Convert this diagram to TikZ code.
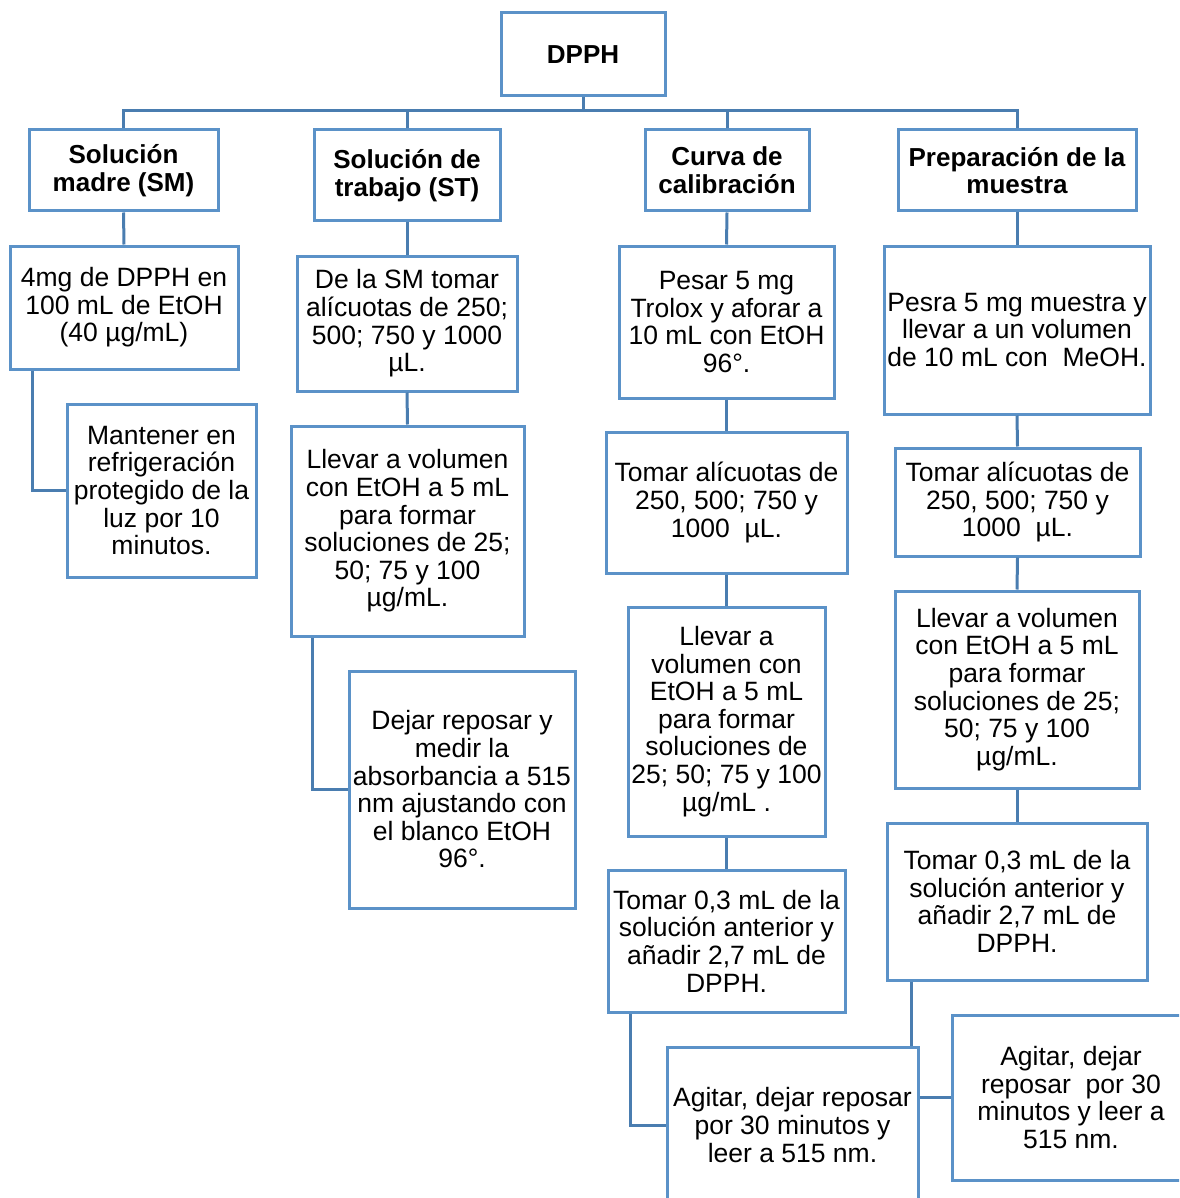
\documentclass[tikz,border=0pt]{standalone}
\usepackage{fontspec}
\setmainfont{Liberation Sans}
\definecolor{boxblue}{RGB}{91,146,200}
\definecolor{linkblue}{RGB}{74,125,176}
\begin{document}
\begin{tikzpicture}[x=1pt,y=-1pt,
  box/.style={draw=boxblue,line width=3pt,fill=white,rectangle,inner sep=0pt,
    align=center,font=\fontsize{26.5}{27.6}\selectfont},
  hbox/.style={box,font=\fontsize{26}{27.6}\selectfont\bfseries},
  link/.style={draw=linkblue,line width=3pt}]
\useasboundingbox (0,0) rectangle (1179,1198);
\clip (0,0) rectangle (1179,1198);

% top level and category headers
\node[hbox,minimum width=164pt,minimum height=83pt] (dpph) at (583,54.5) {DPPH};
\node[hbox,minimum width=189pt,minimum height=81pt] (sm) at (123.5,170.5) {Solución\\madre (SM)};
\node[hbox,minimum width=186pt,minimum height=91pt] (st) at (407,175.5) {Solución de\\trabajo (ST)};
\node[hbox,minimum width=164pt,minimum height=81pt] (cu) at (727,170.5) {Curva de\\calibración};
\node[hbox,minimum width=238pt,minimum height=81pt] (pr) at (1017,170.5) {Preparación de la\\muestra};

% stock solution
\node[box,minimum width=228pt,minimum height=123pt] (a1) at (124,307.5) {4mg de DPPH en\\100 mL de EtOH\\(40 µg/mL)};
\node[box,minimum width=189pt,minimum height=173pt] (a2) at (161.5,490.5) {Mantener en\\refrigeración\\protegido de la\\luz por 10\\minutos.};

% working solution
\node[box,minimum width=220pt,minimum height=135pt] (b1) at (407,323.5) {De la SM tomar\\alícuotas de 250;\\500; 750 y 1000\\µL.};
\node[box,minimum width=233pt,minimum height=210pt] (b2) at (407.5,531) {Llevar a volumen\\con EtOH a 5 mL\\para formar\\soluciones de 25;\\50; 75 y 100\\µg/mL.};
\node[box,minimum width=226pt,minimum height=237pt] (b3) at (462,789.5) {Dejar reposar y\\medir la\\absorbancia a 515\\nm ajustando con\\el blanco EtOH\\96°.};

% calibration curve
\node[box,minimum width=215pt,minimum height=152pt] (c1) at (726.5,322) {Pesar 5 mg\\Trolox y aforar a\\10 mL con EtOH\\96°.};
\node[box,minimum width=241pt,minimum height=141pt] (c2) at (726.5,502.5) {Tomar alícuotas de\\250, 500; 750 y\\1000~ µL.};
\node[box,minimum width=197pt,minimum height=229pt] (c3) at (726.5,721.5) {Llevar a\\volumen con\\EtOH a 5 mL\\para formar\\soluciones de\\25; 50; 75 y 100\\µg/mL .};
\node[box,minimum width=237pt,minimum height=142pt] (c4) at (726.5,941) {Tomar 0,3 mL de la\\solución anterior y\\añadir 2,7 mL de\\DPPH.};
\node[box,minimum width=251pt,minimum height=156pt] (c5) at (792.5,1125) {Agitar, dejar reposar\\por 30 minutos y\\leer a 515 nm.};

% sample preparation
\node[box,minimum width=266pt,minimum height=168pt] (d1) at (1017,330) {Pesra 5 mg muestra y\\llevar a un volumen\\de 10 mL con~ MeOH.};
\node[box,minimum width=245pt,minimum height=108pt] (d2) at (1017.5,502) {Tomar alícuotas de\\250, 500; 750 y\\1000~ µL.};
\node[box,minimum width=244pt,minimum height=197pt] (d3) at (1017,689.5) {Llevar a volumen\\con EtOH a 5 mL\\para formar\\soluciones de 25;\\50; 75 y 100\\µg/mL.};
\node[box,minimum width=260pt,minimum height=157pt] (d4) at (1017,901.5) {Tomar 0,3 mL de la\\solución anterior y\\añadir 2,7 mL de\\DPPH.};
\node[box,minimum width=238pt,minimum height=165pt] (d5) at (1071,1097.5) {Agitar, dejar\\reposar~ por 30\\minutos y leer a\\515 nm.};

% connectors
\coordinate (bus) at (0,111);
\draw[link] (dpph.south) -- (dpph.south |- bus);
\draw[link] (sm.north) -- (sm.north |- bus) -| (pr.north);
\draw[link] (st.north) -- (st.north |- bus);
\draw[link] (cu.north) -- (cu.north |- bus);

\draw[link] (sm.south) -- (a1.north);
\draw[link] ([xshift=24pt]a1.south west) |- (a2.west);

\draw[link] (st.south) -- (b1.north);
\draw[link] (b1.south) -- (b2.north);
\draw[link] ([xshift=23pt]b2.south west) |- (b3.west);

\draw[link] (cu.south) -- (c1.north);
\draw[link] (c1.south) -- (c2.north);
\draw[link] (c2.south) -- (c3.north);
\draw[link] (c3.south) -- (c4.north);
\draw[link] ([xshift=24pt]c4.south west) |- (c5.west);

\draw[link] (pr.south) -- (d1.north);
\draw[link] (d1.south) -- (d2.north);
\draw[link] (d2.south) -- (d3.north);
\draw[link] (d3.south) -- (d4.north);
\coordinate (d4foot) at ([xshift=26pt]d4.south west);
\draw[link] (d4foot) -- (d4foot |- c5.north);
\draw[link] (d5.west -| c5.east) -- (d5.west);
\end{tikzpicture}
\end{document}
